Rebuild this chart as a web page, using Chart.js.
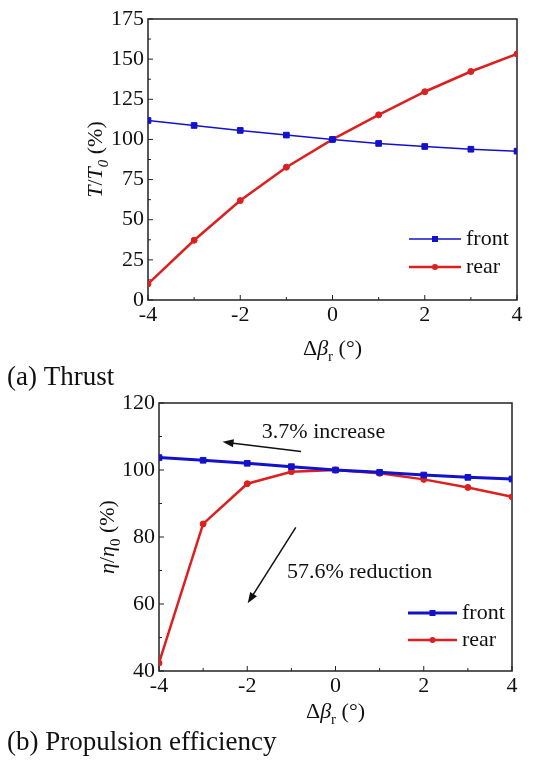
<!DOCTYPE html>
<html>
<head>
<meta charset="utf-8">
<script src="https://cdn.jsdelivr.net/npm/chart.js@4.4.1/dist/chart.umd.min.js"></script>
<style>
  body { margin: 0; background: #fff; width: 534px; height: 762px; position: relative; overflow: hidden; }
  canvas { position: absolute; left: 0; }
  #thrust { top: 0; }
  #eff { top: 380px; }
</style>
</head>
<body>
<canvas id="thrust" width="534" height="400"></canvas>
<canvas id="eff" width="534" height="382"></canvas>
<script>
// pitch change of the blades, degrees
const angles = [-4, -3, -2, -1, 0, 1, 2, 3, 4];
const seriesNames = ['front', 'rear'];

// thrust ratio T/T0 (%)
const thrustFront = [111.8, 108.7, 105.6, 102.7, 100, 97.5, 95.6, 93.9, 92.7];
const thrustRear = [10.0, 37.2, 61.9, 82.7, 100, 115.3, 129.7, 142.3, 153.2];

// propulsion efficiency ratio (%)
const effFront = [103.7, 102.9, 102.0, 101.0, 100, 99.3, 98.5, 97.8, 97.3];
const effRear = [42.4, 83.9, 95.9, 99.5, 100, 99.0, 97.2, 94.8, 92.0];

// tick labels
const xTickVals = [-4, -2, 0, 2, 4];
const thrustTicks = [0, 25, 50, 75, 100, 125, 150, 175];
const effTicks = [40, 60, 80, 100, 120];

const serif = '"Liberation Serif", "Times New Roman", serif';
const blue = '#1212cc';
const red = '#dc1f1f';

Chart.defaults.font.family = serif;
Chart.defaults.font.size = 22;
Chart.defaults.color = '#111';

function lineSet(label, ys, color, width, style, r) {
  return {
    label: label,
    data: angles.map((a, i) => ({ x: a, y: ys[i] })),
    borderColor: color,
    backgroundColor: color,
    borderWidth: width,
    pointStyle: style,
    pointRadius: r,
    pointHoverRadius: r,
    pointBorderWidth: 1,
    tension: 0
  };
}

// text made of pieces, some italic or subscript, centred on (0,0) baseline
function drawRuns(ctx, runs, size) {
  const fontOf = r => (r.i ? 'italic ' : '') + (r.sub ? size * 0.68 : size) + 'px ' + serif;
  let w = 0;
  runs.forEach(r => { ctx.font = fontOf(r); r.w = ctx.measureText(r.t).width; w += r.w; });
  let x = -w / 2;
  runs.forEach(r => {
    ctx.font = fontOf(r);
    ctx.fillText(r.t, x, r.sub ? size * 0.28 : 0);
    x += r.w;
  });
}

function arrow(ctx, x1, y1, x2, y2) {
  const ang = Math.atan2(y2 - y1, x2 - x1);
  const len = 11, half = 4;
  ctx.beginPath();
  ctx.moveTo(x1, y1);
  ctx.lineTo(x2 - Math.cos(ang) * len * 0.8, y2 - Math.sin(ang) * len * 0.8);
  ctx.stroke();
  ctx.beginPath();
  ctx.moveTo(x2, y2);
  ctx.lineTo(x2 - Math.cos(ang) * len - Math.sin(ang) * half, y2 - Math.sin(ang) * len + Math.cos(ang) * half);
  ctx.lineTo(x2 - Math.cos(ang) * len + Math.sin(ang) * half, y2 - Math.sin(ang) * len - Math.cos(ang) * half);
  ctx.closePath();
  ctx.fill();
}

function decor(s) {
  return {
    id: 'decor',
    beforeDatasetsDraw(chart) {
      const { ctx, chartArea: a, scales: { x, y } } = chart;
      ctx.save();
      ctx.strokeStyle = '#222';
      ctx.lineWidth = 1.5;
      ctx.strokeRect(a.left, a.top, a.right - a.left, a.bottom - a.top);

      // inward ticks, minor ones half way between the labelled ones
      ctx.lineWidth = 1;
      ctx.beginPath();
      const xv = x.ticks.map(t => t.value);
      xv.forEach((v, i) => {
        const p = x.getPixelForValue(v);
        ctx.moveTo(p, a.bottom); ctx.lineTo(p, a.bottom - 5);
        if (i < xv.length - 1) {
          const m = x.getPixelForValue((v + xv[i + 1]) / 2);
          ctx.moveTo(m, a.bottom); ctx.lineTo(m, a.bottom - 3);
        }
      });
      const yv = y.ticks.map(t => t.value);
      yv.forEach((v, i) => {
        const p = y.getPixelForValue(v);
        ctx.moveTo(a.left, p); ctx.lineTo(a.left + 5, p);
        if (i < yv.length - 1) {
          const m = y.getPixelForValue((v + yv[i + 1]) / 2);
          ctx.moveTo(a.left, m); ctx.lineTo(a.left + 3, m);
        }
      });
      ctx.stroke();
      ctx.restore();
    },
    afterDraw(chart) {
      const { ctx, chartArea: a, scales: { x, y } } = chart;
      ctx.save();
      ctx.fillStyle = '#111';
      ctx.strokeStyle = '#111';
      ctx.textBaseline = 'alphabetic';

      // axis titles
      ctx.save();
      ctx.translate((a.left + a.right) / 2, a.bottom + s.xTitleGap);
      drawRuns(ctx, [{ t: 'Δ' }, { t: 'β', i: true }, { t: 'r', sub: true }, { t: ' (°)' }], 22);
      ctx.restore();
      ctx.save();
      ctx.translate(s.yTitleX, (a.top + a.bottom) / 2);
      ctx.rotate(-Math.PI / 2);
      drawRuns(ctx, s.yTitle, 22);
      ctx.restore();

      // legend
      ctx.font = '22px ' + serif;
      ctx.textBaseline = 'middle';
      chart.data.datasets.forEach((ds, i) => {
        const ly = a.bottom - s.legendRows[i];
        const x1 = a.right - s.legendX[0], x2 = a.right - s.legendX[1];
        ctx.strokeStyle = ds.borderColor;
        ctx.fillStyle = ds.borderColor;
        ctx.lineWidth = ds.borderWidth;
        ctx.beginPath(); ctx.moveTo(x1, ly); ctx.lineTo(x2, ly); ctx.stroke();
        const mx = (x1 + x2) / 2;
        ctx.beginPath();
        if (ds.pointStyle === 'rect') ctx.rect(mx - 3, ly - 3, 6, 6);
        else ctx.arc(mx, ly, 3, 0, Math.PI * 2);
        ctx.fill();
        ctx.fillStyle = '#111';
        ctx.fillText(ds.label, a.right - s.legendX[2], ly);
      });

      // notes with arrows, placed in data units
      ctx.strokeStyle = '#111';
      ctx.fillStyle = '#111';
      ctx.lineWidth = 1.5;
      (s.notes || []).forEach(n => {
        ctx.fillText(n.text, x.getPixelForValue(n.at[0]), y.getPixelForValue(n.at[1]));
        arrow(ctx, x.getPixelForValue(n.from[0]), y.getPixelForValue(n.from[1]),
          x.getPixelForValue(n.to[0]), y.getPixelForValue(n.to[1]));
      });

      // caption under the panel
      ctx.font = '27px ' + serif;
      ctx.textBaseline = 'alphabetic';
      ctx.fillText(s.caption, 7, s.captionY);
      ctx.restore();
    }
  };
}

function makeChart(id, sets, yTicks, box, s) {
  const el = document.getElementById(id);
  return new Chart(el, {
    type: 'line',
    data: { datasets: sets },
    options: {
      responsive: false,
      animation: false,
      events: [],
      layout: { padding: { left: 0, top: box.top, right: el.width - box.right, bottom: 0 } },
      plugins: { legend: { display: false }, tooltip: { enabled: false } },
      scales: {
        x: {
          type: 'linear',
          min: xTickVals[0],
          max: xTickVals[xTickVals.length - 1],
          afterBuildTicks: sc => { sc.ticks = xTickVals.map(v => ({ value: v })); },
          afterFit: sc => { sc.height = el.height - box.bottom; },
          grid: { display: false, drawTicks: false },
          border: { display: false },
          ticks: { padding: 2, maxRotation: 0, autoSkip: false }
        },
        y: {
          type: 'linear',
          min: yTicks[0],
          max: yTicks[yTicks.length - 1],
          afterBuildTicks: sc => { sc.ticks = yTicks.map(v => ({ value: v })); },
          afterFit: sc => { sc.width = box.left; },
          grid: { display: false, drawTicks: false },
          border: { display: false },
          ticks: { padding: 4, autoSkip: false }
        }
      }
    },
    plugins: [decor(s)]
  });
}

makeChart('thrust', [
  lineSet(seriesNames[0], thrustFront, blue, 1.5, 'rect', 4),
  lineSet(seriesNames[1], thrustRear, red, 2.5, 'circle', 3)
], thrustTicks, { left: 148, top: 19, right: 517, bottom: 300 }, {
  xTitleGap: 55,
  yTitleX: 102,
  yTitle: [{ t: 'T', i: true }, { t: '/' }, { t: 'T', i: true }, { t: '0', i: true, sub: true }, { t: ' (%)' }],
  legendRows: [61, 33],
  legendX: [108, 56, 51],
  caption: '(a) Thrust',
  captionY: 385
});

makeChart('eff', [
  lineSet(seriesNames[0], effFront, blue, 3, 'rect', 4),
  lineSet(seriesNames[1], effRear, red, 2.5, 'circle', 3)
], effTicks, { left: 159, top: 23, right: 512, bottom: 291 }, {
  xTitleGap: 47,
  yTitleX: 114,
  yTitle: [{ t: 'η', i: true }, { t: '/' }, { t: 'η', i: true }, { t: '0', sub: true }, { t: ' (%)' }],
  legendRows: [58, 31],
  legendX: [104, 55, 50],
  notes: [
    { text: '3.7% increase', at: [-1.67, 111.4], from: [-0.78, 105.5], to: [-2.56, 108.4] },
    { text: '57.6% reduction', at: [-1.10, 69.6], from: [-0.90, 82.9], to: [-1.99, 60.2] }
  ],
  caption: '(b) Propulsion efficiency',
  captionY: 370
});
</script>
</body>
</html>
